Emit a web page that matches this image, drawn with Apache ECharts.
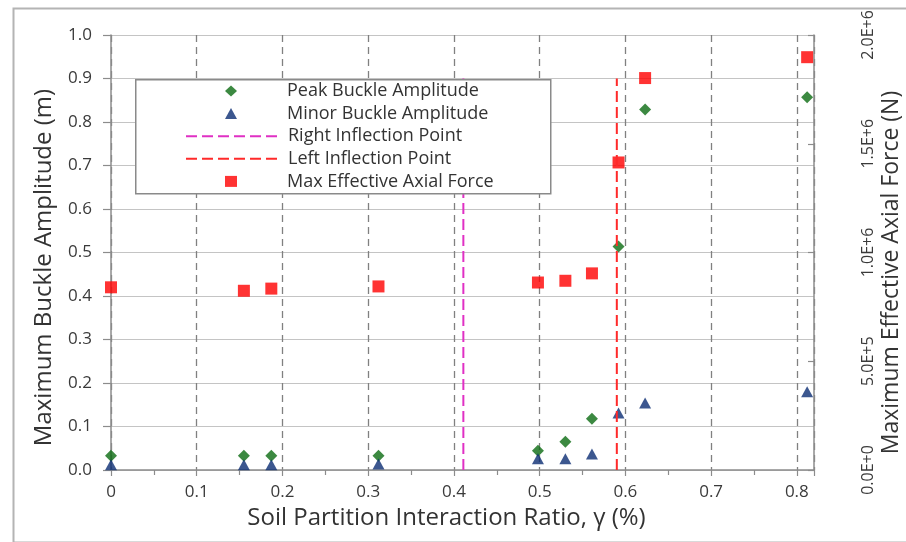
<!DOCTYPE html>
<html>
<head>
<meta charset="utf-8">
<script src="https://cdn.jsdelivr.net/npm/echarts@6/dist/echarts.min.js"></script>
<style>
html,body{margin:0;padding:0;background:#fff;}
#chart{width:906px;height:542px;}
</style>
</head>
<body>
<div id="chart"></div>
<script>
// ---- data ----
var ratioX = [0, 0.155, 0.187, 0.312, 0.498, 0.530, 0.561, 0.592, 0.623, 0.812];
var peakAmplitude = [0.033, 0.033, 0.033, 0.033, 0.044, 0.065, 0.118, 0.514, 0.829, 0.857];
var minorAmplitude = [0.012, 0.012, 0.012, 0.014, 0.026, 0.026, 0.037, 0.131, 0.154, 0.180];
var maxAxialForce = [840000, 824000, 834000, 844000, 862000, 870000, 904000, 1414000, 1802000, 1898000];
var rightInflectionX = 0.411;
var leftInflectionX = 0.590;
var inflectionSpan = [0, 0.9];
var seriesNames = ['Peak Buckle Amplitude', 'Minor Buckle Amplitude', 'Right Inflection Point', 'Left Inflection Point', 'Max Effective Axial Force'];
var xAxisTitle = 'Soil Partition Interaction Ratio, \u03b3 (%)';
var leftAxisTitle = 'Maximum Buckle Amplitude (m)';
var rightAxisTitle = 'Maximum Effective Axial Force (N)';

function pairs(xs, ys) { return xs.map(function (x, i) { return [x, ys[i]]; }); }
function vline(x) { return inflectionSpan.map(function (y) { return [x, y]; }); }

var FONT = '"Open Sans"';
var legendText = {fontFamily: FONT, fontSize: 18, color: '#333', lineHeight: 18};
var ROW = 22.6, LTOP = 82;
function legendBlock(names, top, width, left, textPad, icons) {
  return {
    orient: 'vertical', left: left, top: top, z: 10, padding: 0,
    itemWidth: width, itemHeight: 11, itemGap: ROW - 18,
    textStyle: Object.assign({padding: [0, 0, 0, textPad]}, legendText),
    data: names.map(function (n, i) {
      var d = {name: n};
      if (icons) { d.icon = icons[i]; } else { d.itemStyle = {opacity: 0}; }
      return d;
    })
  };
}

var chart = echarts.init(document.getElementById('chart'), null, {renderer: 'canvas'});
chart.setOption({
  backgroundColor: '#ffffff',
  animation: false,
  graphic: [{
    type: 'rect', left: 11, top: 6, z: -10,
    shape: {width: 905, height: 534},
    style: {fill: 'none', stroke: '#b4b4b4', lineWidth: 2}
  }, {
    type: 'rect', left: 135, top: 79, z: 8,
    shape: {width: 415, height: 114},
    style: {fill: '#ffffff', stroke: '#8a8a8a', lineWidth: 1.5}
  }],
  grid: {left: 111, right: 92, top: 35, bottom: 72, containLabel: false, outerBoundsMode: 'none'},
  legend: [
    legendBlock([seriesNames[0], seriesNames[1]], LTOP, 12, 225, 45, ['diamond', 'triangle']),
    legendBlock([seriesNames[2], seriesNames[3]], LTOP + 2 * ROW, 92, 185, 5, null),
    legendBlock([seriesNames[4]], LTOP + 4 * ROW, 12, 225, 45, ['rect'])
  ],
  xAxis: {
    type: 'value', min: 0, max: 0.82, interval: 0.1,
    name: xAxisTitle, nameLocation: 'middle', nameGap: 36,
    nameTextStyle: {fontFamily: FONT, fontSize: 24, color: '#333', padding: [0, 32, 0, 0]},
    axisLine: {show: true, onZero: false, lineStyle: {color: '#8c8c8c', width: 1.5}},
    axisTick: {show: true, inside: false, length: 6, lineStyle: {color: '#8c8c8c', width: 1.2}},
    minorTick: {show: true, splitNumber: 2, length: 5, lineStyle: {color: '#8c8c8c', width: 1.2}},
    axisLabel: {fontFamily: FONT, fontSize: 17, color: '#3a3a3a', margin: 14, showMaxLabel: false},
    splitLine: {show: true, lineStyle: {color: '#808080', width: 1.3, type: [7, 5]}}
  },
  yAxis: [{
    type: 'value', min: 0, max: 1, interval: 0.1, position: 'left',
    name: leftAxisTitle, nameLocation: 'middle', nameGap: 55,
    nameTextStyle: {fontFamily: FONT, fontSize: 24, color: '#333', padding: [0, 30, 0, 0]},
    axisLine: {show: true, lineStyle: {color: '#8c8c8c', width: 1.5}},
    axisTick: {show: true, inside: false, length: 8, lineStyle: {color: '#8c8c8c', width: 1.2}},
    axisLabel: {fontFamily: FONT, fontSize: 17, color: '#3a3a3a', margin: 19,
      formatter: function (v) { return v.toFixed(1); }},
    splitLine: {show: true, lineStyle: {color: '#c4c4c4', width: 1.2}}
  }, {
    type: 'value', min: 0, max: 2000000, interval: 500000, position: 'right',
    name: rightAxisTitle, nameLocation: 'middle', nameGap: 66, nameMoveOverlap: false,
    nameTextStyle: {fontFamily: FONT, fontSize: 23, color: '#333', padding: [0, 40, 0, 0]},
    axisLine: {show: true, lineStyle: {color: '#8c8c8c', width: 1.5}},
    axisTick: {show: true, inside: true, length: 6, lineStyle: {color: '#8c8c8c', width: 1.2}},
    axisLabel: {fontFamily: FONT, fontSize: 16, color: '#3a3a3a', margin: 46, rotate: 90,
      formatter: function (v) { return v.toExponential(1).replace('e', 'E'); }},
    splitLine: {show: false}
  }],
  series: [{
    name: seriesNames[0], type: 'scatter', yAxisIndex: 0,
    symbol: 'diamond', symbolSize: [12, 12],
    itemStyle: {color: '#0b6b12'},
    data: pairs(ratioX, peakAmplitude)
  }, {
    name: seriesNames[1], type: 'scatter', yAxisIndex: 0,
    symbol: 'triangle', symbolSize: [12, 11],
    itemStyle: {color: '#0b2d73'},
    data: pairs(ratioX, minorAmplitude)
  }, {
    name: seriesNames[2], type: 'line', yAxisIndex: 0, symbol: 'none',
    lineStyle: {color: '#e030c4', width: 2, type: [11, 5]},
    itemStyle: {color: '#e030c4'},
    data: vline(rightInflectionX)
  }, {
    name: seriesNames[3], type: 'line', yAxisIndex: 0, symbol: 'none',
    lineStyle: {color: '#ff2a2a', width: 2, type: [11, 5]},
    itemStyle: {color: '#ff2a2a'},
    data: vline(leftInflectionX)
  }, {
    name: seriesNames[4], type: 'scatter', yAxisIndex: 1,
    symbol: 'rect', symbolSize: [12, 12],
    itemStyle: {color: '#ff0000'},
    data: pairs(ratioX, maxAxialForce)
  }]
});
</script>
</body>
</html>
